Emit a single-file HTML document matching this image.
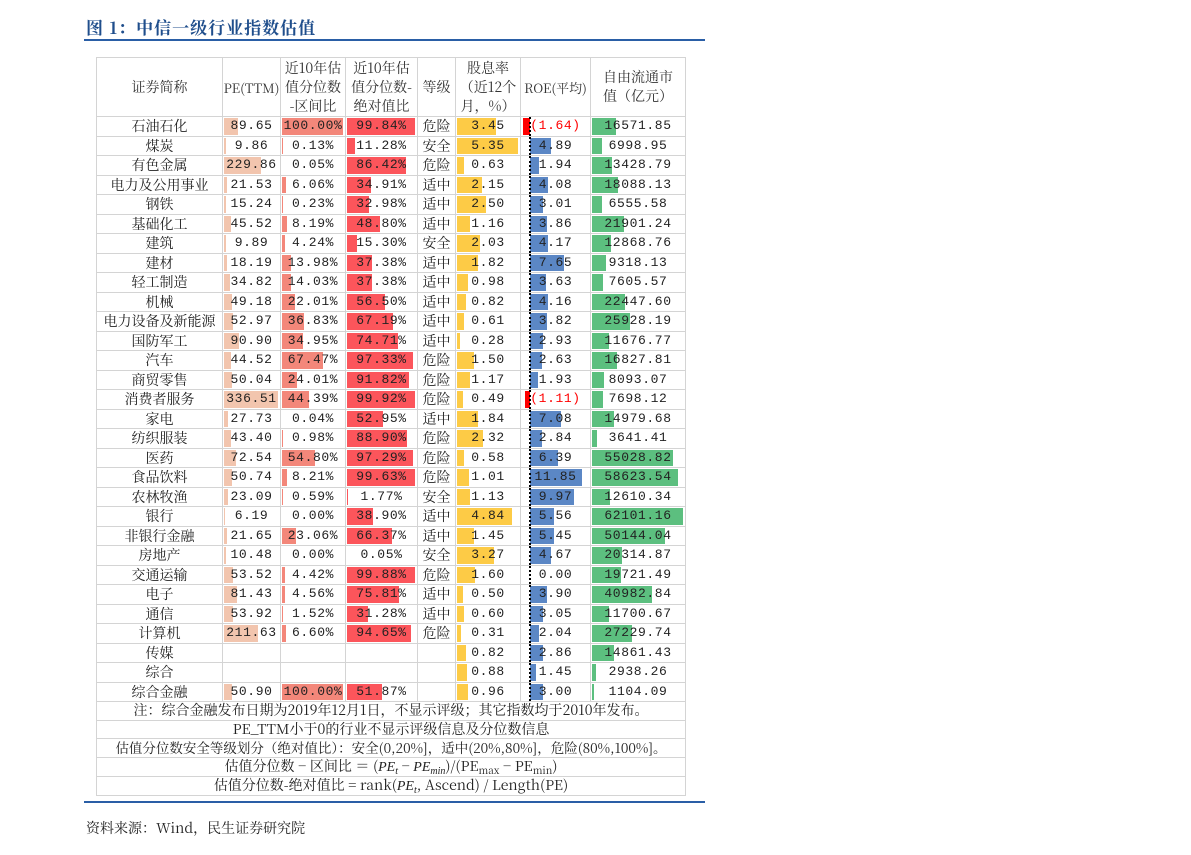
<!DOCTYPE html>
<html><head><meta charset="utf-8"><style>
body{margin:0;width:1191px;height:855px;background:#fff;position:relative;font-family:"Noto Serif CJK SC","Liberation Serif",serif;color:#222}
.title{position:absolute;left:86px;top:14px;font-size:17px;font-weight:bold;color:#1f4e8c;letter-spacing:1px}
.line{position:absolute;left:84px;width:621px;height:2px;background:#2a5ea6}
.src{position:absolute;left:86px;top:818px;font-size:14px}
table{position:absolute;left:96px;top:57px;border-collapse:collapse;table-layout:fixed;width:589px}
td{border:1px solid #d4d4d4;padding:0;text-align:center;font-size:14px;position:relative;white-space:nowrap;overflow:hidden;line-height:18px}
tr.r td{height:18.5px}
thead td{height:58px;line-height:19px;color:#333}
td i{position:absolute;top:1px;bottom:1px;left:1px;z-index:0}
td span{position:relative;z-index:1}
.n{font-family:"Liberation Mono",monospace;letter-spacing:0.6px;font-size:13px}
.pe i{background:#f2c5ae}.iv i{background:#f3877a}.av i{background:#fc555b}.dy i{background:#fdcb46}.cp i{background:#5cbf7f}
.ro i{background:#5b87c5;left:9px}.ro i.neg{background:#f00;left:auto;right:auto}
.ro:after{content:"";position:absolute;left:8px;top:0;bottom:0;border-left:2px dotted #000}
.neg{color:#f00}
.nt td{height:17.5px;font-size:14px;line-height:17px}
sub{font-size:10px;line-height:0;vertical-align:-3px}
em{font-family:"Liberation Serif",serif}
</style></head><body>
<div class="title">图 1：中信一级行业指数估值</div>
<div class="line" style="top:39px"></div>
<table>
<colgroup><col style="width:126px"><col style="width:58px"><col style="width:65px"><col style="width:72px"><col style="width:38px"><col style="width:65px"><col style="width:70px"><col style="width:95px"></colgroup>
<thead><tr><td>证券简称</td><td style="font-size:13px">PE(TTM)</td><td>近10年估<br>值分位数<br>-区间比</td><td>近10年估<br>值分位数-<br>绝对值比</td><td>等级</td><td>股息率<br>（近12个<br>月，%）</td><td style="font-size:13px">ROE(平均)</td><td>自由流通市<br>值（亿元）</td></tr></thead>
<tbody>
<tr class="r"><td>石油石化</td><td class="pe n"><i style="width:calc(89.65px*.1605)"></i><span>89.65</span></td><td class="iv n"><i style="width:calc(100px*.61)"></i><span>100.00%</span></td><td class="av n"><i style="width:calc(99.84px*.68)"></i><span>99.84%</span></td><td>危险</td><td class="dy n"><i style="width:calc(3.45px*11.4)"></i><span>3.45</span></td><td class="ro n"><i class="neg" style="left:2px;width:7px"></i><span class="neg">(1.64)</span></td><td class="cp n"><i style="width:calc(16571.85px*.001465)"></i><span>16571.85</span></td></tr>
<tr class="r"><td>煤炭</td><td class="pe n"><i style="width:calc(9.86px*.1605)"></i><span>9.86</span></td><td class="iv n"><i style="width:calc(0.13px*.61)"></i><span>0.13%</span></td><td class="av n"><i style="width:calc(11.28px*.68)"></i><span>11.28%</span></td><td>安全</td><td class="dy n"><i style="width:calc(5.35px*11.4)"></i><span>5.35</span></td><td class="ro n"><i style="width:calc(4.89px*4.39)"></i><span>4.89</span></td><td class="cp n"><i style="width:calc(6998.95px*.001465)"></i><span>6998.95</span></td></tr>
<tr class="r"><td>有色金属</td><td class="pe n"><i style="width:calc(229.86px*.1605)"></i><span>229.86</span></td><td class="iv n"><i style="width:calc(0.05px*.61)"></i><span>0.05%</span></td><td class="av n"><i style="width:calc(86.42px*.68)"></i><span>86.42%</span></td><td>危险</td><td class="dy n"><i style="width:calc(0.63px*11.4)"></i><span>0.63</span></td><td class="ro n"><i style="width:calc(1.94px*4.39)"></i><span>1.94</span></td><td class="cp n"><i style="width:calc(13428.79px*.001465)"></i><span>13428.79</span></td></tr>
<tr class="r"><td>电力及公用事业</td><td class="pe n"><i style="width:calc(21.53px*.1605)"></i><span>21.53</span></td><td class="iv n"><i style="width:calc(6.06px*.61)"></i><span>6.06%</span></td><td class="av n"><i style="width:calc(34.91px*.68)"></i><span>34.91%</span></td><td>适中</td><td class="dy n"><i style="width:calc(2.15px*11.4)"></i><span>2.15</span></td><td class="ro n"><i style="width:calc(4.08px*4.39)"></i><span>4.08</span></td><td class="cp n"><i style="width:calc(18088.13px*.001465)"></i><span>18088.13</span></td></tr>
<tr class="r"><td>钢铁</td><td class="pe n"><i style="width:calc(15.24px*.1605)"></i><span>15.24</span></td><td class="iv n"><i style="width:calc(0.23px*.61)"></i><span>0.23%</span></td><td class="av n"><i style="width:calc(32.98px*.68)"></i><span>32.98%</span></td><td>适中</td><td class="dy n"><i style="width:calc(2.50px*11.4)"></i><span>2.50</span></td><td class="ro n"><i style="width:calc(3.01px*4.39)"></i><span>3.01</span></td><td class="cp n"><i style="width:calc(6555.58px*.001465)"></i><span>6555.58</span></td></tr>
<tr class="r"><td>基础化工</td><td class="pe n"><i style="width:calc(45.52px*.1605)"></i><span>45.52</span></td><td class="iv n"><i style="width:calc(8.19px*.61)"></i><span>8.19%</span></td><td class="av n"><i style="width:calc(48.80px*.68)"></i><span>48.80%</span></td><td>适中</td><td class="dy n"><i style="width:calc(1.16px*11.4)"></i><span>1.16</span></td><td class="ro n"><i style="width:calc(3.86px*4.39)"></i><span>3.86</span></td><td class="cp n"><i style="width:calc(21901.24px*.001465)"></i><span>21901.24</span></td></tr>
<tr class="r"><td>建筑</td><td class="pe n"><i style="width:calc(9.89px*.1605)"></i><span>9.89</span></td><td class="iv n"><i style="width:calc(4.24px*.61)"></i><span>4.24%</span></td><td class="av n"><i style="width:calc(15.30px*.68)"></i><span>15.30%</span></td><td>安全</td><td class="dy n"><i style="width:calc(2.03px*11.4)"></i><span>2.03</span></td><td class="ro n"><i style="width:calc(4.17px*4.39)"></i><span>4.17</span></td><td class="cp n"><i style="width:calc(12868.76px*.001465)"></i><span>12868.76</span></td></tr>
<tr class="r"><td>建材</td><td class="pe n"><i style="width:calc(18.19px*.1605)"></i><span>18.19</span></td><td class="iv n"><i style="width:calc(13.98px*.61)"></i><span>13.98%</span></td><td class="av n"><i style="width:calc(37.38px*.68)"></i><span>37.38%</span></td><td>适中</td><td class="dy n"><i style="width:calc(1.82px*11.4)"></i><span>1.82</span></td><td class="ro n"><i style="width:calc(7.65px*4.39)"></i><span>7.65</span></td><td class="cp n"><i style="width:calc(9318.13px*.001465)"></i><span>9318.13</span></td></tr>
<tr class="r"><td>轻工制造</td><td class="pe n"><i style="width:calc(34.82px*.1605)"></i><span>34.82</span></td><td class="iv n"><i style="width:calc(14.03px*.61)"></i><span>14.03%</span></td><td class="av n"><i style="width:calc(37.38px*.68)"></i><span>37.38%</span></td><td>适中</td><td class="dy n"><i style="width:calc(0.98px*11.4)"></i><span>0.98</span></td><td class="ro n"><i style="width:calc(3.63px*4.39)"></i><span>3.63</span></td><td class="cp n"><i style="width:calc(7605.57px*.001465)"></i><span>7605.57</span></td></tr>
<tr class="r"><td>机械</td><td class="pe n"><i style="width:calc(49.18px*.1605)"></i><span>49.18</span></td><td class="iv n"><i style="width:calc(22.01px*.61)"></i><span>22.01%</span></td><td class="av n"><i style="width:calc(56.50px*.68)"></i><span>56.50%</span></td><td>适中</td><td class="dy n"><i style="width:calc(0.82px*11.4)"></i><span>0.82</span></td><td class="ro n"><i style="width:calc(4.16px*4.39)"></i><span>4.16</span></td><td class="cp n"><i style="width:calc(22447.60px*.001465)"></i><span>22447.60</span></td></tr>
<tr class="r"><td>电力设备及新能源</td><td class="pe n"><i style="width:calc(52.97px*.1605)"></i><span>52.97</span></td><td class="iv n"><i style="width:calc(36.83px*.61)"></i><span>36.83%</span></td><td class="av n"><i style="width:calc(67.19px*.68)"></i><span>67.19%</span></td><td>适中</td><td class="dy n"><i style="width:calc(0.61px*11.4)"></i><span>0.61</span></td><td class="ro n"><i style="width:calc(3.82px*4.39)"></i><span>3.82</span></td><td class="cp n"><i style="width:calc(25928.19px*.001465)"></i><span>25928.19</span></td></tr>
<tr class="r"><td>国防军工</td><td class="pe n"><i style="width:calc(90.90px*.1605)"></i><span>90.90</span></td><td class="iv n"><i style="width:calc(34.95px*.61)"></i><span>34.95%</span></td><td class="av n"><i style="width:calc(74.71px*.68)"></i><span>74.71%</span></td><td>适中</td><td class="dy n"><i style="width:calc(0.28px*11.4)"></i><span>0.28</span></td><td class="ro n"><i style="width:calc(2.93px*4.39)"></i><span>2.93</span></td><td class="cp n"><i style="width:calc(11676.77px*.001465)"></i><span>11676.77</span></td></tr>
<tr class="r"><td>汽车</td><td class="pe n"><i style="width:calc(44.52px*.1605)"></i><span>44.52</span></td><td class="iv n"><i style="width:calc(67.47px*.61)"></i><span>67.47%</span></td><td class="av n"><i style="width:calc(97.33px*.68)"></i><span>97.33%</span></td><td>危险</td><td class="dy n"><i style="width:calc(1.50px*11.4)"></i><span>1.50</span></td><td class="ro n"><i style="width:calc(2.63px*4.39)"></i><span>2.63</span></td><td class="cp n"><i style="width:calc(16827.81px*.001465)"></i><span>16827.81</span></td></tr>
<tr class="r"><td>商贸零售</td><td class="pe n"><i style="width:calc(50.04px*.1605)"></i><span>50.04</span></td><td class="iv n"><i style="width:calc(24.01px*.61)"></i><span>24.01%</span></td><td class="av n"><i style="width:calc(91.82px*.68)"></i><span>91.82%</span></td><td>危险</td><td class="dy n"><i style="width:calc(1.17px*11.4)"></i><span>1.17</span></td><td class="ro n"><i style="width:calc(1.93px*4.39)"></i><span>1.93</span></td><td class="cp n"><i style="width:calc(8093.07px*.001465)"></i><span>8093.07</span></td></tr>
<tr class="r"><td>消费者服务</td><td class="pe n"><i style="width:calc(336.51px*.1605)"></i><span>336.51</span></td><td class="iv n"><i style="width:calc(44.39px*.61)"></i><span>44.39%</span></td><td class="av n"><i style="width:calc(99.92px*.68)"></i><span>99.92%</span></td><td>危险</td><td class="dy n"><i style="width:calc(0.49px*11.4)"></i><span>0.49</span></td><td class="ro n"><i class="neg" style="left:4px;width:5px"></i><span class="neg">(1.11)</span></td><td class="cp n"><i style="width:calc(7698.12px*.001465)"></i><span>7698.12</span></td></tr>
<tr class="r"><td>家电</td><td class="pe n"><i style="width:calc(27.73px*.1605)"></i><span>27.73</span></td><td class="iv n"><i style="width:calc(0.04px*.61)"></i><span>0.04%</span></td><td class="av n"><i style="width:calc(52.95px*.68)"></i><span>52.95%</span></td><td>适中</td><td class="dy n"><i style="width:calc(1.84px*11.4)"></i><span>1.84</span></td><td class="ro n"><i style="width:calc(7.08px*4.39)"></i><span>7.08</span></td><td class="cp n"><i style="width:calc(14979.68px*.001465)"></i><span>14979.68</span></td></tr>
<tr class="r"><td>纺织服装</td><td class="pe n"><i style="width:calc(43.40px*.1605)"></i><span>43.40</span></td><td class="iv n"><i style="width:calc(0.98px*.61)"></i><span>0.98%</span></td><td class="av n"><i style="width:calc(88.90px*.68)"></i><span>88.90%</span></td><td>危险</td><td class="dy n"><i style="width:calc(2.32px*11.4)"></i><span>2.32</span></td><td class="ro n"><i style="width:calc(2.84px*4.39)"></i><span>2.84</span></td><td class="cp n"><i style="width:calc(3641.41px*.001465)"></i><span>3641.41</span></td></tr>
<tr class="r"><td>医药</td><td class="pe n"><i style="width:calc(72.54px*.1605)"></i><span>72.54</span></td><td class="iv n"><i style="width:calc(54.80px*.61)"></i><span>54.80%</span></td><td class="av n"><i style="width:calc(97.29px*.68)"></i><span>97.29%</span></td><td>危险</td><td class="dy n"><i style="width:calc(0.58px*11.4)"></i><span>0.58</span></td><td class="ro n"><i style="width:calc(6.39px*4.39)"></i><span>6.39</span></td><td class="cp n"><i style="width:calc(55028.82px*.001465)"></i><span>55028.82</span></td></tr>
<tr class="r"><td>食品饮料</td><td class="pe n"><i style="width:calc(50.74px*.1605)"></i><span>50.74</span></td><td class="iv n"><i style="width:calc(8.21px*.61)"></i><span>8.21%</span></td><td class="av n"><i style="width:calc(99.63px*.68)"></i><span>99.63%</span></td><td>危险</td><td class="dy n"><i style="width:calc(1.01px*11.4)"></i><span>1.01</span></td><td class="ro n"><i style="width:calc(11.85px*4.39)"></i><span>11.85</span></td><td class="cp n"><i style="width:calc(58623.54px*.001465)"></i><span>58623.54</span></td></tr>
<tr class="r"><td>农林牧渔</td><td class="pe n"><i style="width:calc(23.09px*.1605)"></i><span>23.09</span></td><td class="iv n"><i style="width:calc(0.59px*.61)"></i><span>0.59%</span></td><td class="av n"><i style="width:calc(1.77px*.68)"></i><span>1.77%</span></td><td>安全</td><td class="dy n"><i style="width:calc(1.13px*11.4)"></i><span>1.13</span></td><td class="ro n"><i style="width:calc(9.97px*4.39)"></i><span>9.97</span></td><td class="cp n"><i style="width:calc(12610.34px*.001465)"></i><span>12610.34</span></td></tr>
<tr class="r"><td>银行</td><td class="pe n"><i style="width:calc(6.19px*.1605)"></i><span>6.19</span></td><td class="iv n"><span>0.00%</span></td><td class="av n"><i style="width:calc(38.90px*.68)"></i><span>38.90%</span></td><td>适中</td><td class="dy n"><i style="width:calc(4.84px*11.4)"></i><span>4.84</span></td><td class="ro n"><i style="width:calc(5.56px*4.39)"></i><span>5.56</span></td><td class="cp n"><i style="width:calc(62101.16px*.001465)"></i><span>62101.16</span></td></tr>
<tr class="r"><td>非银行金融</td><td class="pe n"><i style="width:calc(21.65px*.1605)"></i><span>21.65</span></td><td class="iv n"><i style="width:calc(23.06px*.61)"></i><span>23.06%</span></td><td class="av n"><i style="width:calc(66.37px*.68)"></i><span>66.37%</span></td><td>适中</td><td class="dy n"><i style="width:calc(1.45px*11.4)"></i><span>1.45</span></td><td class="ro n"><i style="width:calc(5.45px*4.39)"></i><span>5.45</span></td><td class="cp n"><i style="width:calc(50144.04px*.001465)"></i><span>50144.04</span></td></tr>
<tr class="r"><td>房地产</td><td class="pe n"><i style="width:calc(10.48px*.1605)"></i><span>10.48</span></td><td class="iv n"><span>0.00%</span></td><td class="av n"><span>0.05%</span></td><td>安全</td><td class="dy n"><i style="width:calc(3.27px*11.4)"></i><span>3.27</span></td><td class="ro n"><i style="width:calc(4.67px*4.39)"></i><span>4.67</span></td><td class="cp n"><i style="width:calc(20314.87px*.001465)"></i><span>20314.87</span></td></tr>
<tr class="r"><td>交通运输</td><td class="pe n"><i style="width:calc(53.52px*.1605)"></i><span>53.52</span></td><td class="iv n"><i style="width:calc(4.42px*.61)"></i><span>4.42%</span></td><td class="av n"><i style="width:calc(99.88px*.68)"></i><span>99.88%</span></td><td>危险</td><td class="dy n"><i style="width:calc(1.60px*11.4)"></i><span>1.60</span></td><td class="ro n"><span>0.00</span></td><td class="cp n"><i style="width:calc(19721.49px*.001465)"></i><span>19721.49</span></td></tr>
<tr class="r"><td>电子</td><td class="pe n"><i style="width:calc(81.43px*.1605)"></i><span>81.43</span></td><td class="iv n"><i style="width:calc(4.56px*.61)"></i><span>4.56%</span></td><td class="av n"><i style="width:calc(75.81px*.68)"></i><span>75.81%</span></td><td>适中</td><td class="dy n"><i style="width:calc(0.50px*11.4)"></i><span>0.50</span></td><td class="ro n"><i style="width:calc(3.90px*4.39)"></i><span>3.90</span></td><td class="cp n"><i style="width:calc(40982.84px*.001465)"></i><span>40982.84</span></td></tr>
<tr class="r"><td>通信</td><td class="pe n"><i style="width:calc(53.92px*.1605)"></i><span>53.92</span></td><td class="iv n"><i style="width:calc(1.52px*.61)"></i><span>1.52%</span></td><td class="av n"><i style="width:calc(31.28px*.68)"></i><span>31.28%</span></td><td>适中</td><td class="dy n"><i style="width:calc(0.60px*11.4)"></i><span>0.60</span></td><td class="ro n"><i style="width:calc(3.05px*4.39)"></i><span>3.05</span></td><td class="cp n"><i style="width:calc(11700.67px*.001465)"></i><span>11700.67</span></td></tr>
<tr class="r"><td>计算机</td><td class="pe n"><i style="width:calc(211.63px*.1605)"></i><span>211.63</span></td><td class="iv n"><i style="width:calc(6.60px*.61)"></i><span>6.60%</span></td><td class="av n"><i style="width:calc(94.65px*.68)"></i><span>94.65%</span></td><td>危险</td><td class="dy n"><i style="width:calc(0.31px*11.4)"></i><span>0.31</span></td><td class="ro n"><i style="width:calc(2.04px*4.39)"></i><span>2.04</span></td><td class="cp n"><i style="width:calc(27229.74px*.001465)"></i><span>27229.74</span></td></tr>
<tr class="r"><td>传媒</td><td></td><td></td><td></td><td></td><td class="dy n"><i style="width:calc(0.82px*11.4)"></i><span>0.82</span></td><td class="ro n"><i style="width:calc(2.86px*4.39)"></i><span>2.86</span></td><td class="cp n"><i style="width:calc(14861.43px*.001465)"></i><span>14861.43</span></td></tr>
<tr class="r"><td>综合</td><td></td><td></td><td></td><td></td><td class="dy n"><i style="width:calc(0.88px*11.4)"></i><span>0.88</span></td><td class="ro n"><i style="width:calc(1.45px*4.39)"></i><span>1.45</span></td><td class="cp n"><i style="width:calc(2938.26px*.001465)"></i><span>2938.26</span></td></tr>
<tr class="r"><td>综合金融</td><td class="pe n"><i style="width:calc(50.90px*.1605)"></i><span>50.90</span></td><td class="iv n"><i style="width:calc(100px*.61)"></i><span>100.00%</span></td><td class="av n"><i style="width:calc(51.87px*.68)"></i><span>51.87%</span></td><td></td><td class="dy n"><i style="width:calc(0.96px*11.4)"></i><span>0.96</span></td><td class="ro n"><i style="width:calc(3.00px*4.39)"></i><span>3.00</span></td><td class="cp n"><i style="width:calc(1104.09px*.001465)"></i><span>1104.09</span></td></tr>
<tr class="nt"><td colspan="8">注：综合金融发布日期为2019年12月1日，不显示评级；其它指数均于2010年发布。</td></tr>
<tr class="nt"><td colspan="8">PE_TTM小于0的行业不显示评级信息及分位数信息</td></tr>
<tr class="nt"><td colspan="8" style="font-size:13.5px">估值分位数安全等级划分（绝对值比）：安全(0,20%]，适中(20%,80%]，危险(80%,100%]。</td></tr>
<tr class="nt"><td colspan="8">估值分位数 − 区间比 ＝ (<em>PE<sub>t</sub></em> − <em>PE<sub>min</sub></em>)/(PE<sub>max</sub> − PE<sub>min</sub>)</td></tr>
<tr class="nt"><td colspan="8">估值分位数-绝对值比 = rank(<em>PE<sub>t</sub></em>, Ascend) / Length(PE)</td></tr>
</tbody></table>
<div class="line" style="top:801px"></div>
<div class="src">资料来源：Wind，民生证券研究院</div>
</body></html>
